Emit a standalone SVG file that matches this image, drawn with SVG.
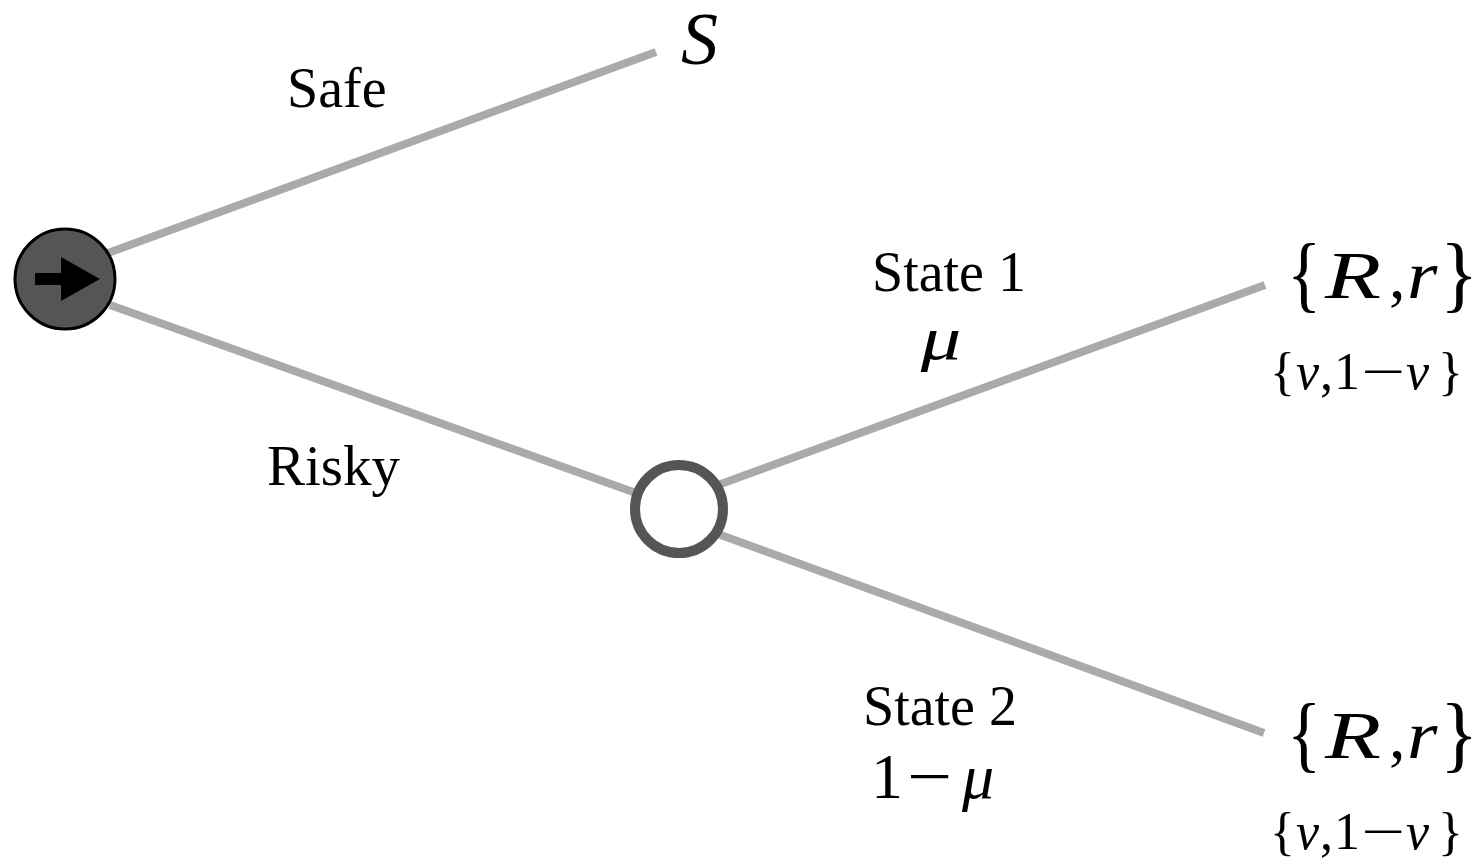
<svg xmlns="http://www.w3.org/2000/svg" width="1484" height="865" viewBox="0 0 1484 865">
<style>
.edge{stroke:#aaaaaa;stroke-width:8;fill:none}
.lbl{font-family:"Liberation Serif","Times New Roman",serif;fill:#000}
.it{font-style:italic}
</style>
<rect width="1484" height="865" fill="#fff"/>
<g id="connectors">
<line class="edge" x1="108" y1="253" x2="656" y2="52"/>
<line class="edge" x1="110" y1="305" x2="636" y2="493"/>
<line class="edge" x1="718" y1="485" x2="1265" y2="285"/>
<line class="edge" x1="718" y1="534" x2="1264" y2="733"/>
</g>
<g id="decision">
<circle cx="65" cy="279" r="50" fill="#555555" stroke="#000" stroke-width="3"/>
<polygon points="35,273 61,273 61,257 100,279 61,301 61,285 35,285" fill="#000"/>
</g>
<g id="chance">
<circle cx="679" cy="509" r="44" fill="#fff" stroke="#555555" stroke-width="10"/>
</g>
<g id="safe-label"><text class="lbl" x="287" y="107" font-size="56">Safe</text></g>
<g id="risky-label"><text class="lbl" x="267" y="485" font-size="57">Risky</text></g>
<g id="S-node"><text class="lbl it" x="681" y="64" font-size="74">S</text></g>
<g id="state1-label">
<text class="lbl" x="949" y="291" font-size="56" text-anchor="middle">State 1</text>
<text class="lbl it" font-size="62" text-anchor="middle" transform="translate(941,359) scale(1.3,1)">μ</text>
</g>
<g id="state2-label">
<text class="lbl" x="940" y="725" font-size="56" text-anchor="middle">State 2</text>
<text class="lbl" x="871" y="798" font-size="64">1</text>
<text class="lbl" font-size="64" transform="translate(907,798) scale(1.25,1)">−</text>
<text class="lbl it" x="962" y="798" font-size="64">μ</text>
</g>
<g id="outcome1">
<text class="lbl" font-size="84" transform="translate(1287,302) scale(0.85,1)">{</text>
<text class="lbl it" font-size="68" transform="translate(1325,298) scale(1.35,1)">R</text>
<text class="lbl" x="1389" y="298" font-size="66">,</text>
<text class="lbl it" font-size="68" transform="translate(1407,298) scale(1.15,1)">r</text>
<text class="lbl" font-size="84" transform="translate(1440,302) scale(0.95,1)">}</text>
<text class="lbl" x="1270" y="389" font-size="52">{</text>
<text class="lbl it" x="1296" y="389" font-size="52">v</text>
<text class="lbl" x="1320" y="389" font-size="52">,</text>
<text class="lbl" x="1334" y="389" font-size="52">1</text>
<text class="lbl" font-size="52" transform="translate(1361,389) scale(1.5,1)">−</text>
<text class="lbl it" x="1406" y="389" font-size="52">v</text>
<text class="lbl" x="1438" y="389" font-size="52">}</text>
</g>
<g id="outcome2">
<text class="lbl" font-size="84" transform="translate(1287,762) scale(0.85,1)">{</text>
<text class="lbl it" font-size="68" transform="translate(1325,758) scale(1.35,1)">R</text>
<text class="lbl" x="1389" y="758" font-size="66">,</text>
<text class="lbl it" font-size="68" transform="translate(1407,758) scale(1.15,1)">r</text>
<text class="lbl" font-size="84" transform="translate(1440,762) scale(0.95,1)">}</text>
<text class="lbl" x="1270" y="849" font-size="52">{</text>
<text class="lbl it" x="1296" y="849" font-size="52">v</text>
<text class="lbl" x="1320" y="849" font-size="52">,</text>
<text class="lbl" x="1334" y="849" font-size="52">1</text>
<text class="lbl" font-size="52" transform="translate(1361,849) scale(1.5,1)">−</text>
<text class="lbl it" x="1406" y="849" font-size="52">v</text>
<text class="lbl" x="1438" y="849" font-size="52">}</text>
</g>
</svg>
